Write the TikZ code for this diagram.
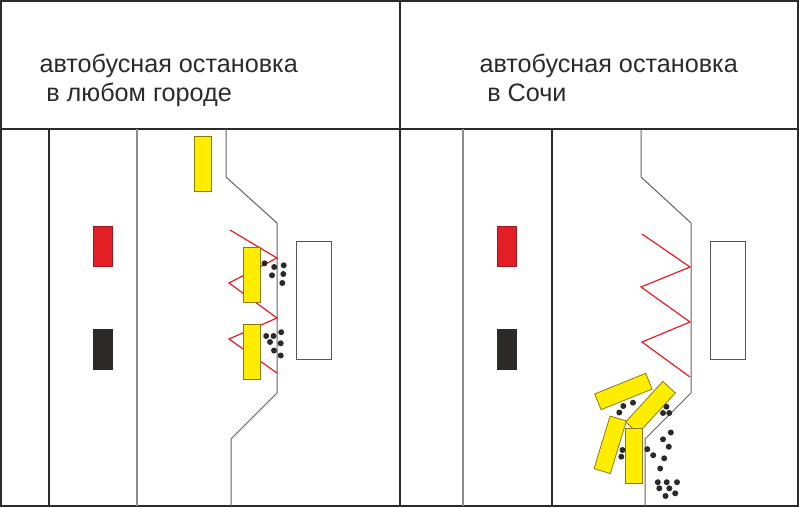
\documentclass[tikz,border=0pt]{standalone}
\usepackage{fontspec}
\setmainfont{Liberation Sans}
\usetikzlibrary{positioning}

\definecolor{busyellow}{HTML}{FFED00}
\definecolor{busedge}{HTML}{8A7A10}
\definecolor{carred}{HTML}{E31E24}
\definecolor{caredge}{HTML}{9A1A20}
\definecolor{carblack}{HTML}{2B2A29}
\definecolor{linegray}{HTML}{8C8C8C}
\definecolor{inkgray}{HTML}{2B2B2B}

\tikzset{
  frame/.style={draw=inkgray,line width=1.5pt},
  lane/.style={draw=inkgray,line width=1.2pt},
  lanegray/.style={draw=linegray,line width=1.2pt},
  curb/.style={draw=linegray!70!black,line width=1pt},
  stopbox/.style={draw=inkgray!80,line width=1pt},
  queue/.style={draw=carred,line width=1.2pt,line join=miter},
  bus/.style={rectangle,draw=busedge,fill=busyellow,line width=0.8pt,
    minimum width=17pt,minimum height=55pt,inner sep=0pt},
  car/.style={rectangle,line width=0.8pt,minimum width=19pt,
    minimum height=40pt,inner sep=0pt},
  people/.style={fill=carblack},
  caption/.style={anchor=base west,align=left,text=inkgray,inner sep=0pt,
    font=\fontsize{25.2}{29}\selectfont}
}

\begin{document}
\begin{tikzpicture}[x=1pt,y=-1pt]
\useasboundingbox (0,0) rectangle (799,507);
% Outer frame and dividers
  \draw[frame] (0.75,0.75) rectangle (798,506);
  \draw[frame] (400,0.75) -- (400,506);
  \draw[frame] (0.75,129) -- (798,129);
% Captions (base is the last line)
  \node[caption] (capl) at (39.3,101.7) {автобусная остановка\\\hspace*{0.27em}в любом городе};
  \node[caption] (capr) at (479.3,101.7) {автобусная остановка\\\hspace*{0.31em}в Сочи};

%
% (Any town)
%
% Lane lines
  \draw[lane] (49,129) -- (49,506);
  \draw[lanegray] (137,129) -- (137,506);
% Kerb with the bay
  \draw[curb] (226,129) -- (226,177) -- (277,223) -- (277,393) -- (231,439) -- (231,506);
% Shelter
  \draw[stopbox] (296,241) rectangle (331,359);
% Waiting line
  \draw[queue] (230,230) -- (277,258) -- (229,283) -- (277,318) -- (229,339) -- (277,373);
% Cars
  \node[car,draw=caredge,fill=carred] (redl) at (102.5,246) {};
  \node[car,draw=carblack,fill=carblack] (blackl) at (102.5,349.5) {};
% Buses
  \node[bus] (busl1) at (203,163.5) {};
  \node[bus] (busl2) at (251.8,274.7) {};
  \node[bus] (busl3) at (251.6,351.7) {};
% Passengers at bus no 2
  \fill[people] (264.5,263.3) circle (3) (274.2,267) circle (3)
    (283.7,265.3) circle (3) (272,275.3) circle (3)
    (283.3,274) circle (3) (282.3,283) circle (3);
% Passengers at bus no 3
  \fill[people] (266.2,336) circle (3) (273.5,336) circle (3)
    (281.2,332.2) circle (3) (270,342) circle (3)
    (280.7,343.3) circle (3) (274,350.5) circle (3)
    (280.7,355.5) circle (3);

%
% (Sochi)
%
% Lane lines
  \draw[lanegray] (463,129) -- (463,506);
  \draw[lane] (552,129) -- (552,506);
% Kerb with the bay
  \draw[curb] (641,129) -- (641,177) -- (691,223) -- (691,393) -- (645,439) -- (645,506);
% Shelter
  \draw[stopbox] (710,241) rectangle (745,359);
% Waiting line
  \draw[queue] (642,234) -- (690,267) -- (641,287) -- (690,322) -- (642,342) -- (690,377);
% Cars
  \node[car,draw=caredge,fill=carred] (redr) at (507.2,246) {};
  \node[car,draw=carblack,fill=carblack] (blackr) at (507.2,349.5) {};
% Buses in a heap
  \node[bus,rotate=-68] (busa) at (623.4,391.5) {};
  \node[bus,rotate=-42.5] (busb) at (650.5,407.4) {};
  \node[bus,rotate=-17] (busc) at (610.2,444.8) {};
  \node[bus] (busd) at (633.4,456.2) {};
% Passengers all around
  \fill[people] (623.3,406) circle (3) (633,402.7) circle (3)
    (619.3,412.5) circle (3) (666.4,406.7) circle (3)
    (663,413) circle (3) (669.3,413) circle (3)
    (670.8,432.5) circle (3) (663,439.3) circle (3)
    (668.8,446.7) circle (3) (622.5,450) circle (3)
    (621.3,456.7) circle (3) (647.3,449.2) circle (3)
    (653.2,455.2) circle (3) (664.2,458.3) circle (3)
    (660.2,468.5) circle (3) (657.8,482.2) circle (3)
    (666.7,482.2) circle (3) (677,482.2) circle (3)
    (659.3,488.3) circle (3) (669.3,488.3) circle (3)
    (675.2,493.3) circle (3) (665.5,496) circle (3);
\end{tikzpicture}
\end{document}
